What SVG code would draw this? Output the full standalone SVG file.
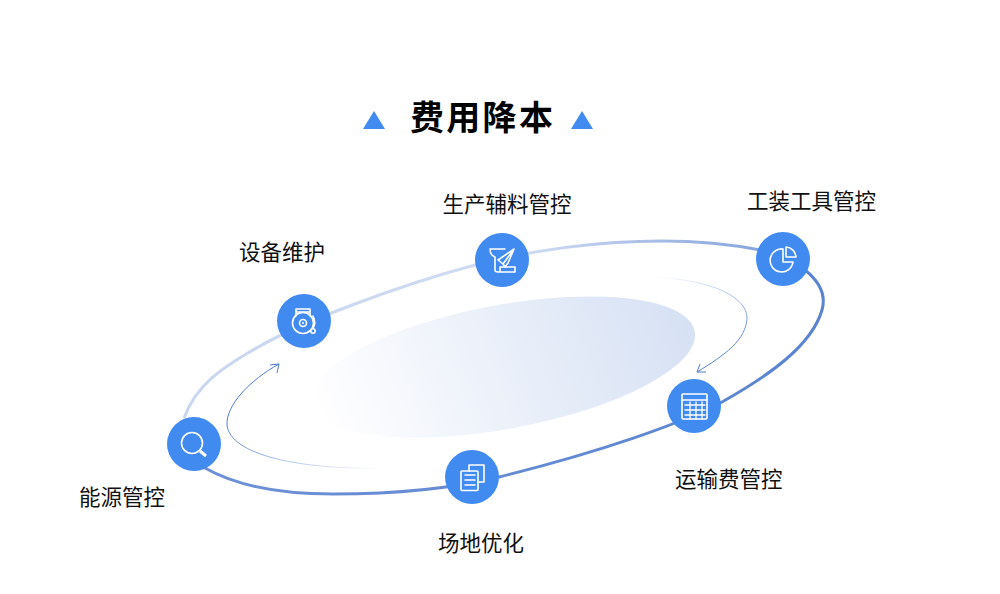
<svg xmlns="http://www.w3.org/2000/svg" width="1000" height="594" viewBox="0 0 1000 594">
<style>
.lb{font-family:"Noto Sans CJK SC","Noto Sans",sans-serif;font-size:21.5px;fill:#111}
.tt{font-family:"Noto Sans CJK SC","Noto Sans",sans-serif;font-size:34px;font-weight:700;fill:#000;letter-spacing:2.3px}
.c{fill:#418af0}
.i{fill:none;stroke:#fff;stroke-width:1.6;stroke-linejoin:round;stroke-linecap:round}
.th{fill:none;stroke-width:1}
</style>
<defs>
<linearGradient id="g1" gradientUnits="userSpaceOnUse" x1="184" y1="418" x2="790" y2="262"><stop offset="0" stop-color="#c8d6ef"/><stop offset=".6" stop-color="#cfdbf2"/><stop offset="1" stop-color="#7f9fdb"/></linearGradient>
<linearGradient id="g2" gradientUnits="userSpaceOnUse" x1="800" y1="270" x2="190" y2="470"><stop offset="0" stop-color="#5a84cf"/><stop offset="1" stop-color="#6e90d6"/></linearGradient>
<linearGradient id="g3" gradientUnits="userSpaceOnUse" x1="315" y1="400" x2="690" y2="330"><stop offset="0" stop-color="#fff"/><stop offset="1" stop-color="#d6e1f4"/></linearGradient>
<linearGradient id="g4" gradientUnits="userSpaceOnUse" x1="655" y1="278" x2="700" y2="372"><stop offset="0" stop-color="#fff"/><stop offset=".5" stop-color="#a9bfe8"/><stop offset="1" stop-color="#4f7cd0"/></linearGradient>
<linearGradient id="g5" gradientUnits="userSpaceOnUse" x1="385" y1="468" x2="280" y2="364"><stop offset="0" stop-color="#fff"/><stop offset=".5" stop-color="#b4c7eb"/><stop offset="1" stop-color="#4f7cd0"/></linearGradient>
</defs>
<rect width="1000" height="594" fill="#fff"/>
<polygon points="363,129 385,129 374,111" class="c"/>
<polygon points="571,129 593,129 582,111" class="c"/>
<text x="410" y="130" class="tt">费用降本</text>
<ellipse cx="503" cy="367" rx="195" ry="62" transform="rotate(-10.5 503 367)" fill="url(#g3)"/>
<g id="connectors">
<path d="M184,418C196,385 222,368 253,350C300,322 400,285 475,265C560,243 670,232 760,250" fill="none" stroke="url(#g1)" stroke-width="3"/>
<path d="M805,270C820,282 826,296 822,310C812,345 770,375 722,402C680,424 600,452 499,477C450,489 390,494 333,494C280,494 235,485 205,468" fill="none" stroke="url(#g2)" stroke-width="3"/>
<path d="M653,277C715,280 747,298 747,318C746,340 725,355 697,372" class="th" stroke="url(#g4)"/>
<path d="M697,372L706,372M697,372L700,364" fill="none" stroke="#4f7cd0" stroke-width="1"/>
<path d="M385,468C300,470 230,455 227,425C226,405 250,380 279,364" class="th" stroke="url(#g5)"/>
<path d="M279,364L270,365M279,364L277,373" fill="none" stroke="#4f7cd0" stroke-width="1"/>
</g>
<g id="n1"><circle class="c" cx="194" cy="444" r="27"/>
<circle class="i" cx="192" cy="443" r="10.500"/><path class="i" style="stroke-width:3;stroke-linecap:butt" d="M200,451L206,456"/><text x="79" y="505" class="lb">能源管控</text></g>
<g id="n2"><circle class="c" cx="304" cy="321" r="27"/>
<circle class="i" cx="303" cy="323" r="10.500"/><circle class="i" cx="303" cy="323" r="3.500"/><circle cx="303" cy="323" r="1" fill="#fff"/><path class="i" d="M296,316V309H310V316M296,312H310M313,316C315,320 315,325 313,328"/><circle class="i" cx="313" cy="331" r="2.200"/><text x="239" y="260" class="lb">设备维护</text></g>
<g id="n3"><circle class="c" cx="502" cy="260" r="27"/>
<path class="i" d="M490,249H505M490,249C490,253 492,256 495,257V270C495,271 496,272 498,272H515V267H500V272"/><path class="i" d="M514,249L498,260L503,264L505,267L508,263L514,249L503,264"/><text x="442.500" y="212" class="lb">生产辅料管控</text></g>
<g id="n4"><circle class="c" cx="783" cy="259" r="27"/>
<path class="i" d="M783,249A11.500,11.500 0 1 0 793,262H783Z"/><path class="i" d="M786,247A10.500,10.500 0 0 1 796,257L786,257Z"/><text x="747" y="209" class="lb">工装工具管控</text></g>
<g id="n5"><circle class="c" cx="694" cy="406" r="27"/>
<rect class="i" x="682" y="394" width="25" height="25" rx="1"/><path class="i" style="stroke-width:1.300" d="M682,400H707M685,405H705M685,410H705M685,415H705M690,402V419M696,402V419M702,402V419"/><text x="675" y="487" class="lb">运输费管控</text></g>
<g id="n6"><circle class="c" cx="472" cy="477" r="27"/>
<rect class="i" x="461" y="471" width="17" height="19.500" rx="1"/><path class="i" d="M469,471V465H484V482H478M465,475H475M465,480H475M465,485H475"/><text x="438" y="551" class="lb">场地优化</text></g>
</svg>
